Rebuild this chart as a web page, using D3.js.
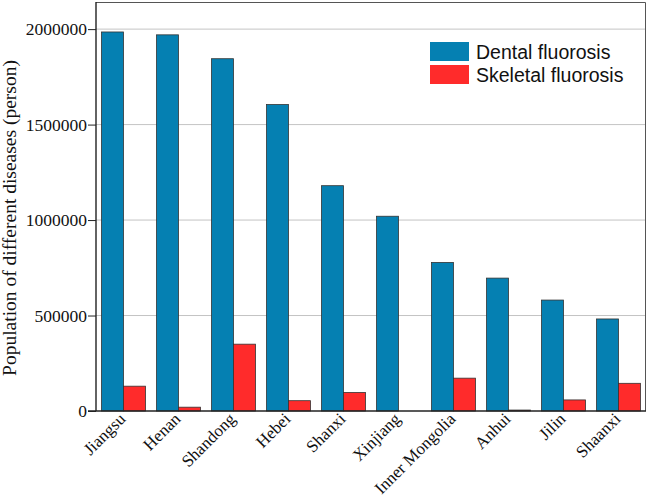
<!DOCTYPE html>
<html>
<head>
<meta charset="utf-8">
<script src="https://cdn.jsdelivr.net/npm/d3@7"></script>
<style>
  body { margin: 0; background: #fff; }
  svg { display: block; }
</style>
</head>
<body>
<div id="chart"></div>
<script>
const provinces = ["Jiangsu", "Henan", "Shandong", "Hebei", "Shanxi", "Xinjiang", "Inner Mongolia", "Anhui", "Jilin", "Shaanxi"];
const dental = [1985000, 1970000, 1845000, 1605000, 1180000, 1020000, 778000, 696000, 581000, 482000];
const skeletal = [130000, 20000, 350000, 54000, 97000, 0, 172000, 5000, 58000, 145000];
const yTicks = [0, 500000, 1000000, 1500000, 2000000];
const seriesNames = ["Dental fluorosis", "Skeletal fluorosis"];
const seriesColors = ["#0580b2", "#ff2b2b"];

const width = 650, height = 497;
const margin = { top: 2, right: 4, bottom: 86, left: 96 };
const innerWidth = width - margin.left - margin.right;
const innerHeight = height - margin.top - margin.bottom;
const serif = "Liberation Serif, Times New Roman, serif";

const rows = provinces.map((p, i) => ({ province: p, values: [dental[i], skeletal[i]] }));

const svg = d3.select("#chart").append("svg")
  .attr("width", width)
  .attr("height", height);
const g = svg.append("g").attr("transform", `translate(${margin.left},${margin.top})`);

const x = d3.scaleBand().domain(provinces).range([0, innerWidth]).paddingInner(0.2).paddingOuter(0.1);
const xs = d3.scaleBand().domain([0, 1]).range([0, x.bandwidth()]);
const y = d3.scaleLinear().domain([0, 2142000]).range([innerHeight, 0]);

// grid
g.selectAll(".grid")
  .data(yTicks.filter((t) => t > 0)).join("line")
  .attr("x1", 0).attr("x2", innerWidth)
  .attr("y1", (d) => y(d)).attr("y2", (d) => y(d))
  .attr("stroke", "#c4c4c4").attr("stroke-width", 1);

// frame (top / right)
g.append("path")
  .attr("d", `M0,0.5H${innerWidth - 0.5}V${innerHeight}`)
  .attr("fill", "none").attr("stroke", "#555").attr("stroke-width", 1);

// bars
const groups = g.selectAll(".grp").data(rows).join("g")
  .attr("transform", (d) => `translate(${x(d.province)},0)`);
groups.selectAll("rect")
  .data((d) => d.values.map((v, i) => ({ v, i })))
  .join("rect")
  .attr("x", (d) => xs(d.i))
  .attr("y", (d) => y(d.v))
  .attr("width", xs.bandwidth())
  .attr("height", (d) => innerHeight - y(d.v))
  .attr("fill", (d) => seriesColors[d.i])
  .attr("stroke", "#333")
  .attr("stroke-width", 0.8);

// y axis
const yAxis = g.append("g")
  .call(d3.axisLeft(y).tickValues(yTicks).tickSize(8).tickPadding(1).tickFormat(d3.format("d")));
yAxis.select(".domain").attr("stroke", "#222").attr("stroke-width", 1.4).attr("d", `M0,0V${innerHeight}`);
yAxis.selectAll(".tick line").attr("stroke", "#222");
yAxis.selectAll("text")
  .attr("font-family", serif)
  .attr("font-size", 17.5).attr("fill", "#111");

// x axis
const xAxis = g.append("g")
  .attr("transform", `translate(0,${innerHeight})`)
  .call(d3.axisBottom(x).tickSize(0).tickPadding(0));
xAxis.select(".domain").attr("stroke", "#222").attr("stroke-width", 1.4).attr("d", `M-8,0H${innerWidth}`);
xAxis.selectAll("text")
  .attr("font-family", serif)
  .attr("font-size", 17).attr("fill", "#111")
  .attr("text-anchor", "end")
  .attr("dy", 0)
  .attr("transform", "translate(3,9) rotate(-45)");

// y label
svg.append("text")
  .attr("transform", `translate(16,218) rotate(-90)`)
  .attr("text-anchor", "middle")
  .attr("font-family", serif)
  .attr("font-size", 19.5).attr("fill", "#111")
  .text("Population of different diseases (person)");

// legend
const legend = svg.append("g").attr("transform", "translate(430,42)");
seriesNames.forEach((name, i) => {
  legend.append("rect")
    .attr("x", 0).attr("y", i * 23)
    .attr("width", 39).attr("height", 19)
    .attr("fill", seriesColors[i]);
  legend.append("text")
    .attr("x", 46).attr("y", i * 23 + 17)
    .attr("font-family", "Liberation Sans, Arial, sans-serif")
    .attr("font-size", 19.5).attr("fill", "#111")
    .text(name);
});
</script>
</body>
</html>
